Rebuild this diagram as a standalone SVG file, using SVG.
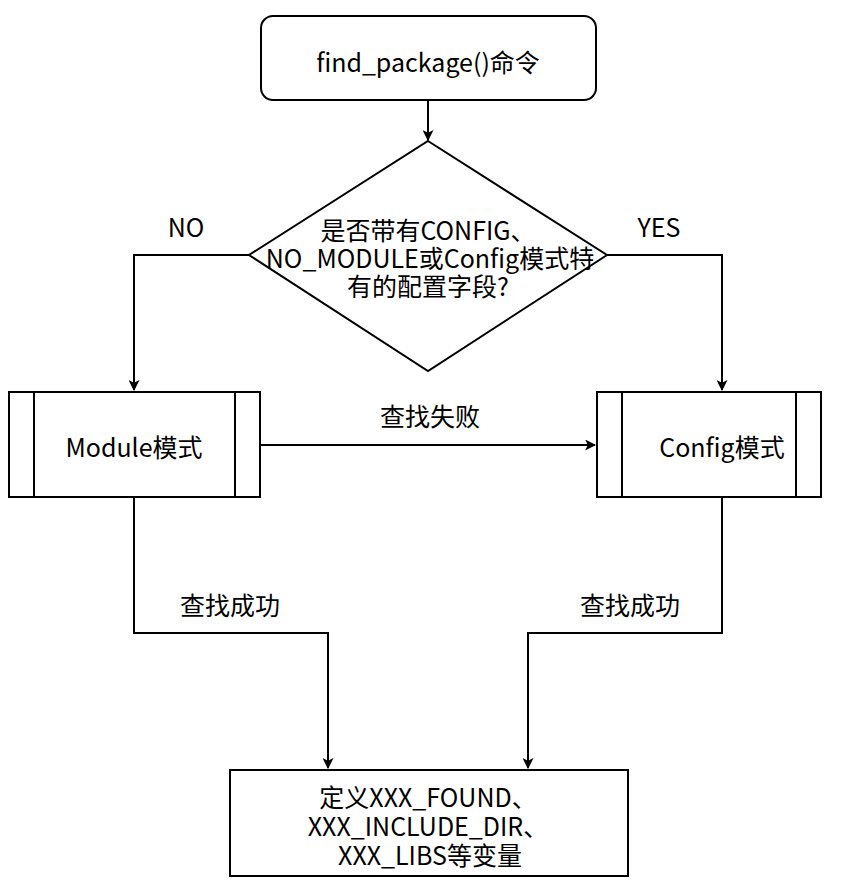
<svg xmlns="http://www.w3.org/2000/svg" width="855" height="885" viewBox="0 0 855 885">
<defs>
<marker id="arr" viewBox="0 0 10 10" refX="9" refY="5" markerWidth="11" markerHeight="11" markerUnits="userSpaceOnUse" orient="auto">
<path d="M0,0 L10,5 L0,10 L2.5,5 Z" fill="#000"/>
</marker>
<style>
.s{fill:#fff;stroke:#000;stroke-width:2}
.l{fill:none;stroke:#000;stroke-width:2}
.c{fill:none;stroke:#000;stroke-width:2;marker-end:url(#arr)}
text{font-family:"Noto Sans CJK SC","Noto Sans",sans-serif;font-size:25px;fill:#000;text-anchor:middle}
</style>
</defs>
<rect width="855" height="885" fill="#fff"/>
<g id="connectors">
<path class="c" d="M428,100 L428,140"/>
<path class="c" d="M249,255 L134,255 L134,390"/>
<path class="c" d="M607,255 L722,255 L722,390"/>
<path class="c" d="M260,445 L595,445"/>
<path class="c" d="M134,497 L134,633 L328,633 L328,768"/>
<path class="c" d="M722,497 L722,633 L528,633 L528,768"/>
<text x="186" y="237">NO</text>
<text x="659" y="237">YES</text>
<text x="430" y="426">查找失败</text>
<text x="230" y="615">查找成功</text>
<text x="630" y="615">查找成功</text>
</g>
<g id="start">
<rect class="s" x="261" y="16" width="335" height="84" rx="12"/>
<text x="428" y="72">find_package()命令</text>
</g>
<g id="decision">
<path class="s" d="M428,141 L607,255 L428,371 L249,255 Z"/>
<text x="428" y="240">是否带有CONFIG、</text>
<text x="430" y="268">NO_MODULE或Config模式特</text>
<text x="428" y="296">有的配置字段?</text>
</g>
<g id="module">
<rect class="s" x="9" y="392" width="251" height="105"/>
<path class="l" d="M34,392 V497 M235,392 V497"/>
<text x="134" y="457">Module模式</text>
</g>
<g id="config">
<rect class="s" x="597" y="392" width="224" height="105"/>
<path class="l" d="M622,392 V497 M796,392 V497"/>
<text x="722" y="457">Config模式</text>
</g>
<g id="result">
<rect class="s" x="230" y="770" width="398" height="106"/>
<text x="428" y="807">定义XXX_FOUND、</text>
<text x="428" y="836">XXX_INCLUDE_DIR、</text>
<text x="430" y="865">XXX_LIBS等变量</text>
</g>
</svg>
